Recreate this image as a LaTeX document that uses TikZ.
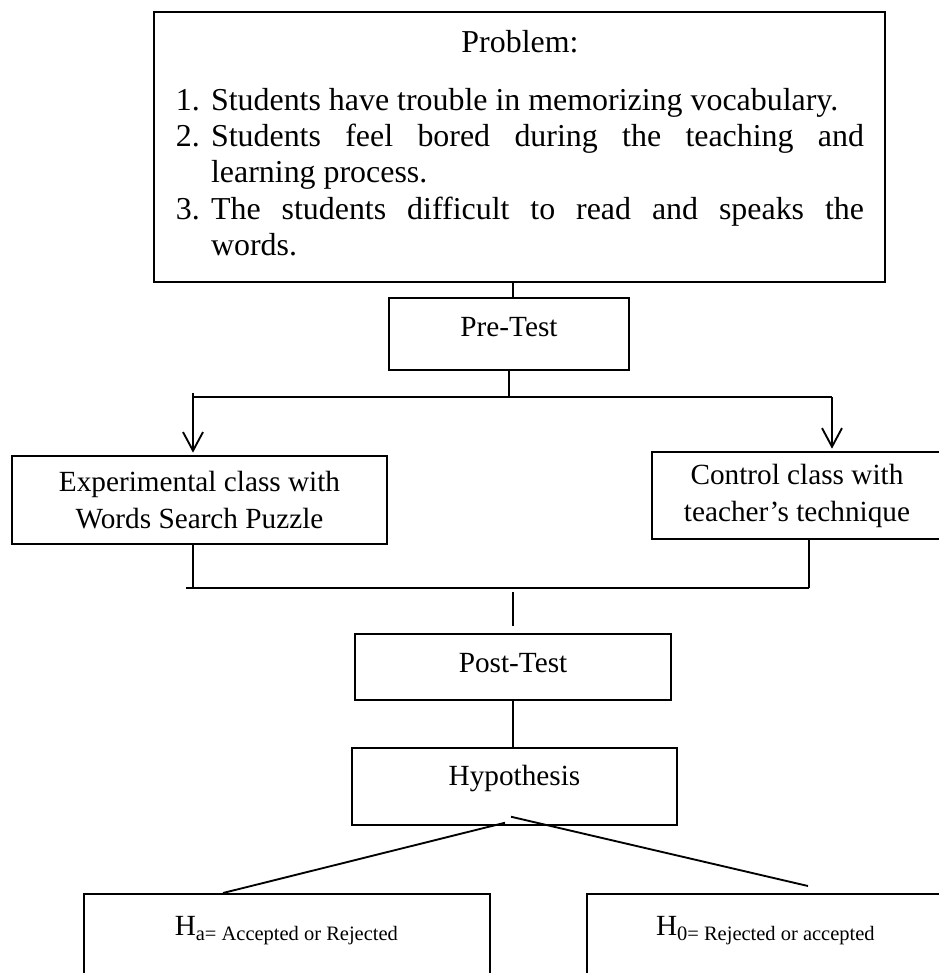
\documentclass[tikz,border=0pt]{standalone}
\usepackage{fontspec}
\setmainfont{Liberation Serif}
\usetikzlibrary{arrows.meta, positioning}

\newcommand{\probitem}[2]{\noindent\hangindent=13.2pt\hangafter=1\makebox[13.2pt][l]{#1}#2\par}

\begin{document}
\begin{tikzpicture}[
    x=0.376pt, y=-0.376pt,
    box/.style={draw, line width=0.5pt, align=center, inner sep=2pt,
        font=\fontsize{11}{13.9}\selectfont},
    bigbox/.style={draw, line width=0.8pt, inner sep=0pt},
    hypobox/.style={draw, line width=0.8pt, anchor=north, minimum height=48.9pt,
        text height=7.5pt, text depth=25pt, font=\fontsize{11}{13.9}\selectfont},
    lifted/.style={text height=7.5pt, text depth=#1},
    conn/.style={line width=0.7pt},
    arr/.style={conn, -{Straight Barb[length=7pt,width=7.5pt]}, shorten >=1pt}]

    \useasboundingbox (0,0) rectangle (939,973);
    \clip (0,0) rectangle (939,973);

    \node[bigbox, minimum width=274.9pt, minimum height=101.5pt] (problem) at (519.5,147) {};
    \node[anchor=north, text width=258.7pt, inner sep=0pt, align=justify,
        font=\fontsize{12}{13.6}\selectfont] (problist) at (520,30) {%
        \parindent=0pt\tolerance=9999\hbadness=10000
        {\centering Problem:\par}\vspace{8.2pt}
        \probitem{1.}{Students have trouble in memorizing vocabulary.}
        \probitem{2.}{Students feel bored during the teaching and\linebreak learning process.}
        \probitem{3.}{The students difficult to read and speaks the\linebreak words.}};

    \node[box, lifted=6pt, minimum width=90.2pt, minimum height=27.1pt] (pre) at (509,334) {Pre-Test};
    \node[box, minimum width=141pt, minimum height=33.1pt] (exp) at (199.5,500)
        {Experimental class with\\Words Search Puzzle};
    \node[box, minimum width=109pt, minimum height=32.7pt] (ctrl) at (797,495.5)
        {Control class with\\teacher's technique};
    \node[box, lifted=3pt, minimum width=118.8pt, minimum height=24.8pt] (post) at (513,667) {Post-Test};
    \node[box, lifted=8pt, minimum width=122.2pt, minimum height=29pt] (hyp) at (514.5,786.5) {Hypothesis};
    \node[hypobox, minimum width=152.7pt] (ha) at (287,893) {H\textsubscript{a= Accepted or Rejected}};
    \node[hypobox, minimum width=134.6pt] (hnull) at (766,893) {H\textsubscript{0= Rejected or accepted}};

    \coordinate (splitL) at (193,397);
    \coordinate (splitR) at (832,397);
    \coordinate (joinL) at (186,588);
    \coordinate (joinR) at (809,588);
    \coordinate (merge) at (511,592);

    \draw[conn] ([xshift=1.5pt]pre.north) -- ([xshift=1.5pt]pre.north |- problem.south);
    \draw[conn] (pre.south) -- (pre.south |- splitL);
    \draw[conn] (splitL) -- (splitR);
    \draw[arr] ([yshift=1.5pt]splitL) -- (splitL |- exp.north);
    \draw[arr] (splitR) -- (splitR |- ctrl.north);
    \draw[conn] (splitL |- exp.south) -- (splitL |- joinL);
    \draw[conn] (joinR |- ctrl.south) -- (joinR);
    \draw[conn] (joinL) -- (joinR);
    \draw[conn, shorten >=2.6pt] (post.north |- merge) -- (post.north);
    \draw[conn] (post.south) -- (post.south |- hyp.north);
    \draw[conn] ([shift={(-9.5,-3)}]hyp.south) -- ([shift={(-64,0)}]ha.north);
    \draw[conn] ([shift={(-3.5,-9)}]hyp.south) -- ([shift={(42,-7)}]hnull.north);
\end{tikzpicture}
\end{document}
